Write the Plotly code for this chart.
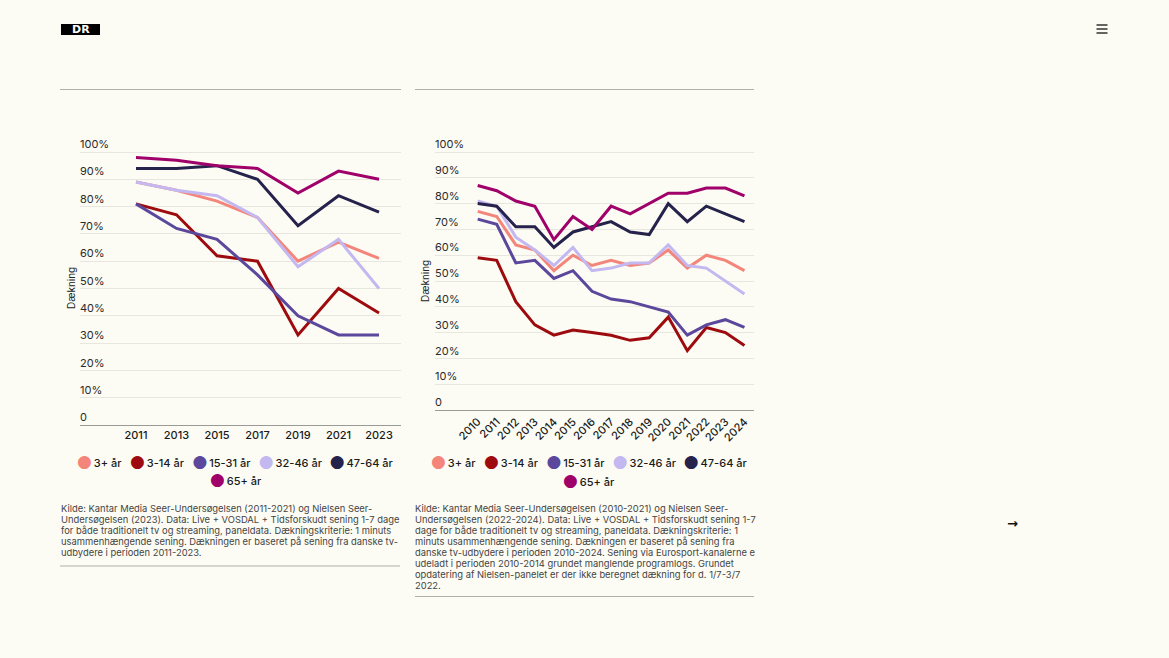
import plotly.graph_objects as go

W, H = 1169, 658
BG = "#fcfcf4"
FONT = "Inter"

# ---------------- data ----------------
series_names = ["3+ år", "3-14 år", "15-31 år", "32-46 år", "47-64 år", "65+ år"]
series_colors = ["#f4857a", "#9e0b0f", "#5b479c", "#c4b8f0", "#25224b", "#a0006a"]

years_left = [2011, 2013, 2015, 2017, 2019, 2021, 2023]
left_3plus = [89, 86, 82, 76, 60, 67, 61]
left_3_14 = [81, 77, 62, 60, 33, 50, 41]
left_15_31 = [81, 72, 68, 55, 40, 33, 33]
left_32_46 = [89, 86, 84, 76, 58, 68, 50]
left_47_64 = [94, 94, 95, 90, 73, 84, 78]
left_65plus = [98, 97, 95, 94, 85, 93, 90]

years_right = list(range(2010, 2025))
right_3plus = [77, 75, 64, 62, 54, 60, 56, 58, 56, 57, 62, 55, 60, 58, 54]
right_3_14 = [59, 58, 42, 33, 29, 31, 30, 29, 27, 28, 36, 23, 32, 30, 25]
right_15_31 = [74, 72, 57, 58, 51, 54, 46, 43, 42, 40, 38, 29, 33, 35, 32]
right_32_46 = [81, 79, 67, 62, 56, 63, 54, 55, 57, 57, 64, 56, 55, 50, 45]
right_47_64 = [80, 79, 71, 71, 63, 69, 71, 73, 69, 68, 80, 73, 79, 76, 73]
right_65plus = [87, 85, 81, 79, 66, 75, 70, 79, 76, 80, 84, 84, 86, 86, 83]

y_tickvals = [0, 10, 20, 30, 40, 50, 60, 70, 80, 90, 100]
y_ticktext = ["0", "10%", "20%", "30%", "40%", "50%", "60%", "70%", "80%", "90%", "100%"]
y_title = "Dækning"

source_left_lines = [
    "Kilde: Kantar Media Seer-Undersøgelsen (2011-2021) og Nielsen Seer-",
    "Undersøgelsen (2023). Data: Live + VOSDAL + Tidsforskudt sening 1-7 dage",
    "for både traditionelt tv og streaming, paneldata. Dækningskriterie: 1 minuts",
    "usammenhængende sening. Dækningen er baseret på sening fra danske tv-",
    "udbydere i perioden 2011-2023.",
]
source_right_lines = [
    "Kilde: Kantar Media Seer-Undersøgelsen (2010-2021) og Nielsen Seer-",
    "Undersøgelsen (2022-2024). Data: Live + VOSDAL + Tidsforskudt sening 1-7",
    "dage for både traditionelt tv og streaming, paneldata. Dækningskriterie: 1",
    "minuts usammenhængende sening. Dækningen er baseret på sening fra",
    "danske tv-udbydere i perioden 2010-2024. Sening via Eurosport-kanalerne e",
    "udeladt i perioden 2010-2014 grundet manglende programlogs. Grundet",
    "opdatering af Nielsen-panelet er der ikke beregnet dækning for d. 1/7-3/7",
    "2022.",
]

left_data = [left_3plus, left_3_14, left_15_31, left_32_46, left_47_64, left_65plus]
right_data = [right_3plus, right_3_14, right_15_31, right_32_46, right_47_64, right_65plus]


def px(x):
    return x / W


def py(y):
    return 1 - y / H


# rough text widths (em) of the legend labels, used to pack legend entries tightly
CHAR_EM = {"3": .60, "+": .60, " ": .25, "å": .55, "r": .37, "-": .43, "1": .40,
           "4": .62, "5": .58, "2": .58, "6": .60, "7": .55}
LEG_SIZE = 11
DOT_W = 12.0        # width of the coloured dot + thin-space prefix


def label_width(s):
    return sum(CHAR_EM.get(c, .55) for c in s) * LEG_SIZE


fig = go.Figure()

for name, color, vals in zip(series_names, series_colors, left_data):
    fig.add_trace(go.Scatter(x=years_left, y=vals, mode="lines", name=name,
                             line=dict(color=color, width=3), showlegend=False,
                             xaxis="x", yaxis="y"))
for name, color, vals in zip(series_names, series_colors, right_data):
    fig.add_trace(go.Scatter(x=years_right, y=vals, mode="lines", name=name,
                             line=dict(color=color, width=3), showlegend=False,
                             xaxis="x2", yaxis="y2"))

# legend entries: coloured dot in the label, native symbol hidden
n = len(series_names)
for i, (name, color) in enumerate(zip(series_names, series_colors)):
    lg_left = "legend" if i < 5 else "legend2"
    lg_right = "legend3" if i < 5 else "legend4"
    label = (f"<span style='color:{color};font-family:DejaVu Sans;font-size:17px'>●</span>"
             f"\u2009{name}")
    last_in_row = i in (4, n - 1)
    lw = DOT_W + label_width(name) + (12 if last_in_row else -15)
    for lg, xa, ya in ((lg_left, "x", "y"), (lg_right, "x2", "y2")):
        fig.add_trace(go.Scatter(x=[None], y=[None], mode="markers", name=label,
                                 marker=dict(color="rgba(0,0,0,0)", size=1), legend=lg,
                                 legendwidth=lw, xaxis=xa, yaxis=ya))

ytickfont = dict(family=FONT, size=11, color="#2a2a2a")
xtickfont = dict(family=FONT, size=11, color="#1a1a1a", weight=500)
grid = "#e7e7df"

# y range extends a little above 100 so that the "100%" label (drawn above its gridline) stays visible
Y_TOP = 106
yax = dict(range=[0, Y_TOP], tickvals=y_tickvals, ticktext=y_ticktext,
           ticklabelposition="inside top", ticklabelstandoff=-3,
           showgrid=True, gridcolor=grid, gridwidth=1,
           zeroline=False, showline=False, ticks="", tickfont=ytickfont, fixedrange=True)

legend_common = dict(orientation="h", bgcolor="rgba(0,0,0,0)", xanchor="left", yanchor="middle",
                     font=dict(family=FONT, size=LEG_SIZE, color="#1a1a1a", weight=500),
                     itemclick=False, tracegroupgap=0, indentation=-15)

L_Y0, L_Y100 = 425, 152
R_Y0, R_Y100 = 410, 152
l_top = L_Y100 - (Y_TOP - 100) * (L_Y0 - L_Y100) / 100
r_top = R_Y100 - (Y_TOP - 100) * (R_Y0 - R_Y100) / 100

DOT_OFF = 32  # legend box left edge -> first dot centre
fig.update_layout(
    width=W, height=H, autosize=False,
    margin=dict(l=0, r=0, t=0, b=0),
    paper_bgcolor=BG, plot_bgcolor=BG,
    font=dict(family=FONT, color="#222222"),
    xaxis=dict(domain=[px(80), px(401)], range=[2008.235, 2024.086],
               tickvals=years_left, ticks="", showgrid=False, zeroline=False,
               showline=True, linecolor="#9a9a96", linewidth=1, tickfont=xtickfont,
               anchor="y", fixedrange=True),
    yaxis=dict(domain=[py(L_Y0), py(l_top)], anchor="x", **yax),
    xaxis2=dict(domain=[px(435), px(754)], range=[2007.76, 2024.5],
                tickvals=years_right, ticks="", showgrid=False, zeroline=False,
                showline=True, linecolor="#9a9a96", linewidth=1, tickfont=xtickfont,
                tickangle=-45, anchor="y2", fixedrange=True),
    yaxis2=dict(domain=[py(R_Y0), py(r_top)], anchor="x2", **yax),
    legend=dict(x=px(84 - DOT_OFF), y=py(463), **legend_common),
    legend2=dict(x=px(217 - DOT_OFF), y=py(481), **legend_common),
    legend3=dict(x=px(438 - DOT_OFF), y=py(463), **legend_common),
    legend4=dict(x=px(570 - DOT_OFF), y=py(482), **legend_common),
    showlegend=True,
)

shapes = [
    dict(type="line", xref="paper", yref="paper", x0=px(60), x1=px(401), y0=py(89.5), y1=py(89.5),
         line=dict(color="#b0b0aa", width=1)),
    dict(type="line", xref="paper", yref="paper", x0=px(415), x1=px(754), y0=py(89.5), y1=py(89.5),
         line=dict(color="#b0b0aa", width=1)),
    dict(type="line", xref="paper", yref="paper", x0=px(60), x1=px(400), y0=py(566), y1=py(566),
         line=dict(color="#b0b0aa", width=1)),
    dict(type="line", xref="paper", yref="paper", x0=px(415), x1=px(754), y0=py(596.5), y1=py(596.5),
         line=dict(color="#b0b0aa", width=1)),
    dict(type="rect", xref="paper", yref="paper", x0=px(61), x1=px(100), y0=py(35), y1=py(24),
         fillcolor="#000000", line=dict(width=0)),
]
for yy in (25, 29, 33):
    shapes.append(dict(type="line", xref="paper", yref="paper", x0=px(1096.5), x1=px(1107.5),
                       y0=py(yy), y1=py(yy), line=dict(color="#111111", width=1.3)))
fig.update_layout(shapes=shapes)

annotations = [
    dict(text="<b>DR</b>", x=px(80.5), y=py(29.5), xref="paper", yref="paper", showarrow=False,
         font=dict(family="DejaVu Sans", size=11, color="#ffffff", weight=900),
         xanchor="center", yanchor="middle"),
    dict(text="<b>→</b>", x=px(1012), y=py(523), xref="paper", yref="paper", showarrow=False,
         font=dict(family="DejaVu Sans", size=13, color="#111111"), xanchor="center", yanchor="middle"),
    dict(text=y_title, x=px(71), y=py(288), xref="paper", yref="paper", showarrow=False,
         textangle=-90, font=dict(family=FONT, size=10, color="#222222"),
         xanchor="center", yanchor="middle"),
    dict(text=y_title, x=px(425), y=py(281), xref="paper", yref="paper", showarrow=False,
         textangle=-90, font=dict(family=FONT, size=10, color="#222222"),
         xanchor="center", yanchor="middle"),
]
SRC_FONT = dict(family=FONT, size=9.4, color="#444444")
for lines, x0 in ((source_left_lines, 59), (source_right_lines, 413)):
    for k, line in enumerate(lines):
        annotations.append(dict(text=line, x=px(x0), y=py(508 + 11.0 * k), xref="paper", yref="paper",
                                showarrow=False, align="left", xanchor="left", yanchor="middle",
                                font=SRC_FONT))
fig.update_layout(annotations=annotations)

fig.write_html("out.html", config=dict(displayModeBar=False))
